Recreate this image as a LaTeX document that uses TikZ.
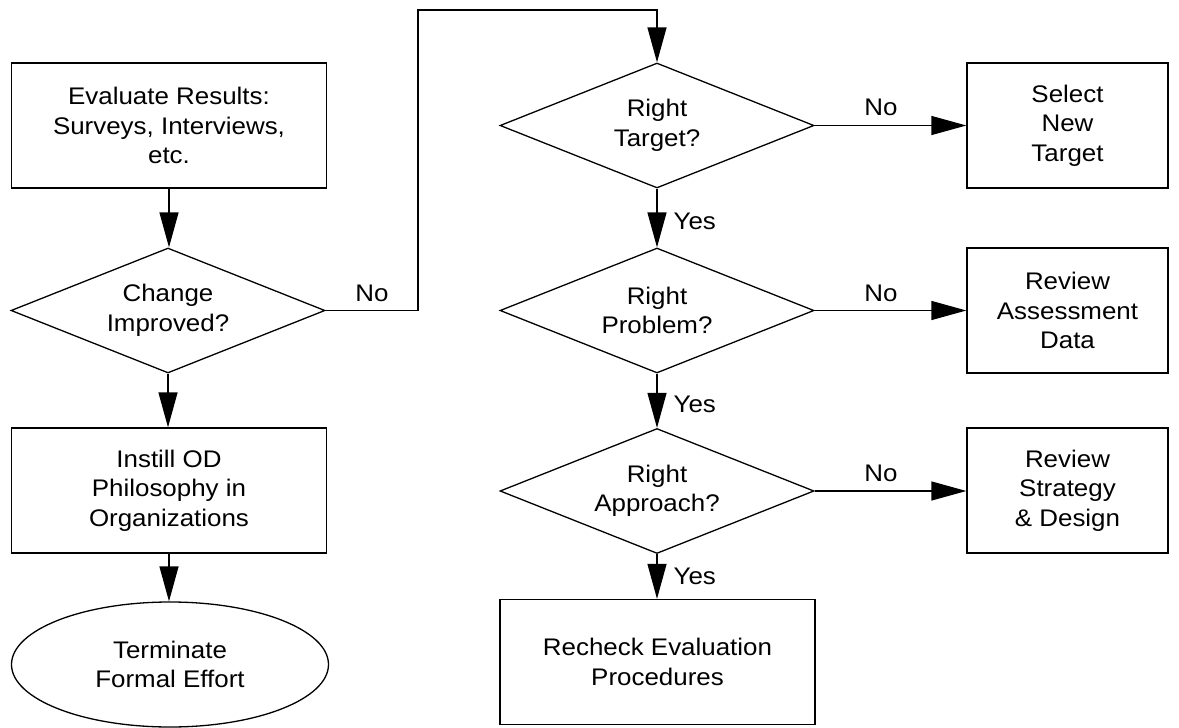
\documentclass[tikz,border=0pt]{standalone}
\usepackage{fontspec}
\setmainfont{Liberation Sans}[FakeStretch=1.08]
\usetikzlibrary{shapes.geometric,arrows.meta}

\begin{document}
\begin{tikzpicture}[x=1pt,y=-1pt, line width=1.3pt,
  every node/.style={font=\fontsize{24}{29.5}\selectfont, align=center},
  procbox/.style={draw, rectangle, minimum width=315, minimum height=125, inner sep=0},
  sidebox/.style={draw, rectangle, minimum width=201, minimum height=125, inner sep=0},
  decision/.style={draw, diamond, aspect=2.5, minimum width=314, minimum height=125, inner sep=0},
  terminal/.style={draw, ellipse, minimum width=317, minimum height=125, inner sep=0},
  flow/.style={-{Triangle[length=35pt,width=19pt]}},
  lbl/.style={inner sep=0}]

  \useasboundingbox (0,0) rectangle (1179,728);

  % left column
  \node[procbox]  (eval)    at (169,125.5) {Evaluate Results:\\Surveys, Interviews,\\etc.};
  \node[decision] (chg)     at (168,310.5) {Change\\Improved?};
  \node[procbox]  (instill) at (169,490.5) {Instill OD\\Philosophy in\\Organizations};
  \node[terminal] (term)    at (170,664.5) {Terminate\\Formal Effort};

  % decision column
  \node[decision] (tgt)     at (657,125.5) {Right\\Target?};
  \node[decision] (prob)    at (657,310.5) {Right\\Problem?};
  \node[decision] (appr)    at (657,491)   {Right\\Approach?};
  \node[procbox]  (recheck) at (657.5,662) {Recheck Evaluation\\Procedures};

  % corrective actions
  \node[sidebox] (newt)   at (1067.5,125.5) {Select\\New\\Target};
  \node[sidebox] (assess) at (1067.5,310.5) {Review\\Assessment\\Data};
  \node[sidebox] (strat)  at (1067.5,490.5) {Review\\Strategy\\\& Design};

  % connectors
  \coordinate (up) at (418,10);
  \draw[flow] (eval.south) -- (eval.south |- chg.north);
  \draw[flow] (chg.south) -- (chg.south |- instill.north);
  \draw[flow] (instill.south) -- (instill.south |- term.north);
  \draw[flow] (chg.east) -| (up) -| (tgt.north);
  \draw[flow] (tgt.south) -- (prob.north);
  \draw[flow] (prob.south) -- (appr.north);
  \draw[flow] (appr.south) -- (appr.south |- recheck.north);
  \draw[flow] (tgt.east) -- (newt.west);
  \draw[flow] (prob.east) -- (assess.west);
  \draw[flow] (appr.east) -- (appr.east -| strat.west);

  % branch labels
  \node[lbl] (n0) at (372,293) {No};
  \node[lbl] (n1) at (881,107) {No};
  \node[lbl] (n2) at (881,293) {No};
  \node[lbl] (n3) at (881,473) {No};
  \node[lbl, anchor=west] (y1) at (673,221) {Yes};
  \node[lbl, anchor=west] (y2) at (673,404) {Yes};
  \node[lbl, anchor=west] (y3) at (673,576) {Yes};
\end{tikzpicture}
\end{document}
